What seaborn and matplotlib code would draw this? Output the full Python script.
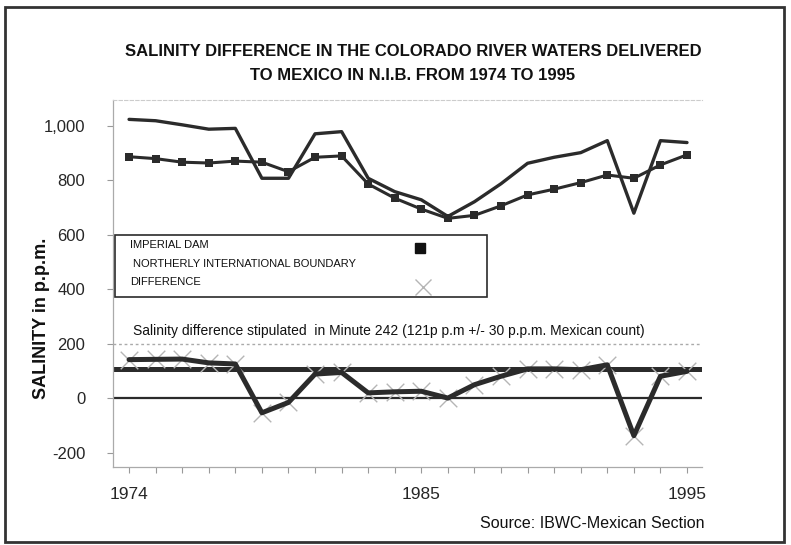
import numpy as np
import pandas as pd
import seaborn as sns
import matplotlib.pyplot as plt
from matplotlib.patches import Rectangle

# data (p.p.m.)
years = list(range(1974, 1996))
imperial_dam = [886, 879, 866, 863, 870, 866, 831, 884, 889, 786, 734,
                694, 660, 671, 706, 746, 767, 791, 819, 807, 856, 893]
nib = [1023, 1018, 1003, 987, 990, 807, 807, 970, 978, 807, 758,
       728, 667, 721, 787, 862, 884, 901, 945, 679, 945, 938]
difference = [142, 143, 144, 130, 126, -53, -15, 89, 95, 20, 24,
              26, 1, 50, 81, 108, 108, 105, 123, -137, 81, 99]
stipulated = 109
y_ticks = [-200, 0, 200, 400, 600, 800, 1000]
x_labelled = [1974, 1985, 1995]

df = pd.DataFrame({"year": years, "imperial": imperial_dam,
                   "nib": nib, "diff": difference})

sns.set_theme(style="white")
plt.rcParams['font.family'] = ['Liberation Sans Narrow', 'Liberation Sans', 'DejaVu Sans']

dark = "#2b2b2b"
light = "#b5b5b5"

fig = plt.figure(figsize=(7.91, 5.45), dpi=100)
ax = fig.add_axes([0.143, 0.144, 0.744, 0.673])

# reference lines
ax.axhline(200, color="#aaaaaa", lw=1, ls=(0, (2, 2)), zorder=1)
ax.axhline(0, color=dark, lw=1.6, zorder=2)
ax.axhline(stipulated, color=dark, lw=3.6, zorder=2)

# series
sns.scatterplot(data=df, x="year", y="diff", marker="x", s=160, color=light,
                linewidth=1.0, ax=ax, zorder=3, legend=False)
sns.lineplot(data=df, x="year", y="diff", color=dark, lw=3.6, ax=ax, zorder=4)
sns.lineplot(data=df, x="year", y="nib", color=dark, lw=2.4, ax=ax, zorder=4)
sns.lineplot(data=df, x="year", y="imperial", color=dark, lw=2.2, marker="s",
             markersize=5.5, markeredgewidth=0, ax=ax, zorder=5)

ax.set_xlim(1973.4, 1995.55)
ax.set_ylim(-250, 1095)
ax.set_xlabel("")
ax.set_ylabel("")

ax.set_yticks(y_ticks)
ax.set_yticklabels([f"{v:,}" for v in y_ticks], fontsize=12)
ax.set_xticks(years)
ax.set_xticklabels([str(y) if y in x_labelled else "" for y in years], fontsize=12.5)
ax.tick_params(axis="y", length=4, width=0.8, color="#999999", pad=16, left=True)
ax.tick_params(axis="x", length=4, width=0.8, color="#999999", pad=11, bottom=True)

ax.spines["right"].set_visible(False)
ax.spines["top"].set_color("#cccccc")
ax.spines["top"].set_linestyle((0, (3, 2)))
ax.spines["top"].set_linewidth(0.8)
for side in ["left", "bottom"]:
    ax.spines[side].set_color("#aaaaaa")
    ax.spines[side].set_linewidth(0.9)

# legend box (text left, symbol right, as in the original)
ax.add_patch(Rectangle((0.004, 0.463), 0.631, 0.169, transform=ax.transAxes,
                       fill=True, facecolor="white", edgecolor=dark, lw=1.2, zorder=6))
leg_font = dict(fontsize=8, color="#111111", transform=ax.transAxes, va="center", zorder=7)
ax.text(0.029, 0.605, "IMPERIAL DAM", **leg_font)
ax.text(0.034, 0.553, "NORTHERLY INTERNATIONAL BOUNDARY", **leg_font)
ax.text(0.029, 0.504, "DIFFERENCE", **leg_font)
ax.plot([0.521], [0.597], marker="s", ms=7, color="#111111",
        transform=ax.transAxes, zorder=7, clip_on=False)
ax.plot([0.526], [0.489], marker="x", ms=12, mew=1, color=light,
        transform=ax.transAxes, zorder=7, clip_on=False)

ax.text(0.034, 0.358, "Salinity difference stipulated  in Minute 242 (121p p.m +/- 30 p.p.m. Mexican count)",
        transform=ax.transAxes, fontsize=10, color="#111111", family=['Liberation Sans', 'DejaVu Sans'])

fig.text(0.522, 0.884, "SALINITY DIFFERENCE IN THE COLORADO RIVER WATERS DELIVERED\nTO MEXICO IN N.I.B. FROM 1974 TO 1995",
         ha="center", va="center", fontsize=12, fontweight="bold", linespacing=1.75, color="#111111")
fig.text(0.053, 0.416, "SALINITY in p.p.m.", rotation=90, ha="center", va="center",
         fontsize=13, fontweight="bold", color="#111111", family=['Liberation Sans', 'DejaVu Sans'])
fig.text(0.749, 0.040, "Source: IBWC-Mexican Section", ha="center", va="center",
         fontsize=11.5, color="#111111")

# page border of the scan
fig.add_artist(Rectangle((0.006, 0.006), 0.985, 0.982, transform=fig.transFigure,
                         fill=False, edgecolor="#333333", lw=2))

fig.savefig("out.png", dpi=100)
